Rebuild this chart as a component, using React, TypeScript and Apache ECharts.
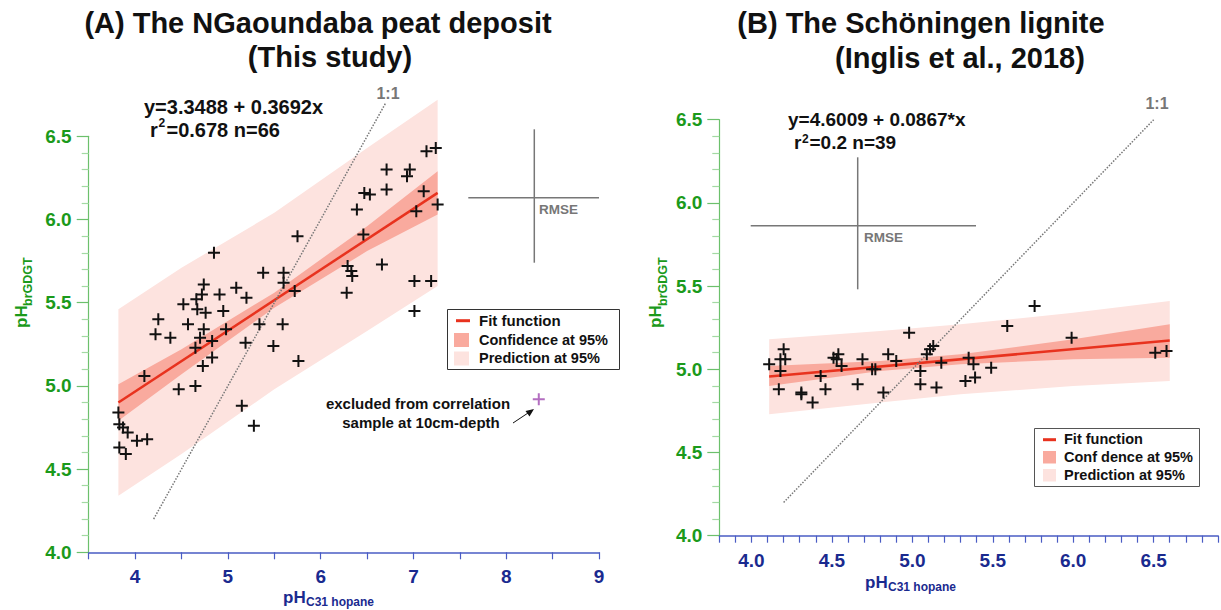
import React, { useEffect, useRef } from "react";
import * as echarts from "echarts";

const FONT = '"Liberation Sans", Arial, Helvetica, sans-serif';

// ---------- Panel A : NGaoundaba peat ----------
const aPoints: number[][] = [
  [4.85, 5.80], [5.38, 5.68], [5.60, 5.68], [5.60, 5.62], [5.72, 5.57], [4.74, 5.61],
  [5.09, 5.59], [5.20, 5.53], [4.91, 5.55], [4.52, 5.49], [4.66, 5.52], [4.72, 5.55],
  [4.67, 5.46], [4.76, 5.44], [4.95, 5.45], [4.25, 5.40], [4.57, 5.37], [4.74, 5.34],
  [4.98, 5.34], [4.22, 5.31], [4.38, 5.29], [4.70, 5.29], [4.83, 5.27], [5.19, 5.26],
  [5.34, 5.37], [5.59, 5.37], [5.49, 5.24], [4.65, 5.23], [4.83, 5.17], [4.73, 5.12],
  [5.76, 5.15], [4.10, 5.06], [4.47, 4.98], [4.65, 5.00], [3.82, 4.84], [3.83, 4.77],
  [3.87, 4.75], [3.92, 4.72], [4.02, 4.67], [4.13, 4.68], [3.83, 4.63], [3.90, 4.59],
  [5.15, 4.88], [5.28, 4.76], [7.14, 6.41], [7.24, 6.43], [6.71, 6.30], [6.96, 6.30],
  [6.93, 6.26], [6.71, 6.18], [6.47, 6.16], [6.53, 6.15], [7.11, 6.17], [7.26, 6.09],
  [6.39, 6.06], [7.03, 6.05], [5.75, 5.90], [6.46, 5.91], [6.29, 5.72], [6.33, 5.69],
  [6.34, 5.66], [6.66, 5.73], [6.28, 5.56], [7.01, 5.63], [7.19, 5.63], [7.01, 5.45],
];
const aExcluded: number[][] = [[8.35, 4.92]];
const aFit: number[][] = [[3.82, 4.90], [7.26, 6.16]];
const aOneToOne: number[][] = [[4.2, 4.2], [6.7, 6.7]];
const aBandX = [3.82, 4.5, 5.5, 6.5, 7.26];
const aConfLow = [4.79, 5.07, 5.47, 5.81, 6.03];
const aConfHigh = [5.01, 5.22, 5.56, 5.96, 6.29];
const aPredLow = [4.34, 4.59, 4.98, 5.33, 5.60];
const aPredHigh = [5.46, 5.71, 6.04, 6.43, 6.72];

// ---------- Panel B : Schöningen lignite ----------
const bPoints: number[][] = [
  [4.11, 5.03], [4.17, 4.88], [4.20, 5.12], [4.18, 5.06], [4.21, 5.06], [4.18, 4.99],
  [4.31, 4.86], [4.31, 4.85], [4.38, 4.80], [4.43, 4.96], [4.46, 4.88], [4.51, 5.07],
  [4.54, 5.09], [4.53, 5.06], [4.56, 5.02], [4.66, 4.91], [4.69, 5.06], [4.75, 5.00],
  [4.77, 5.00], [4.82, 4.86], [4.85, 5.09], [4.90, 5.05], [4.98, 5.22], [5.05, 4.99],
  [5.05, 4.91], [5.09, 5.09], [5.11, 5.12], [5.13, 5.14], [5.15, 4.89], [5.18, 5.04],
  [5.33, 4.93], [5.39, 4.95], [5.35, 5.07], [5.38, 5.03], [5.49, 5.01], [5.59, 5.26],
  [5.76, 5.38], [5.99, 5.19], [6.51, 5.10], [6.58, 5.11],
];
const bFit: number[][] = [[4.11, 4.957], [6.6, 5.173]];
const bOneToOne: number[][] = [[4.2, 4.2], [6.5, 6.5]];
const bBandX = [4.11, 4.8, 5.3, 6.0, 6.6];
const bConfLow = [4.90, 4.99, 5.03, 5.06, 5.07];
const bConfHigh = [5.02, 5.05, 5.09, 5.18, 5.27];
const bPredLow = [4.73, 4.80, 4.85, 4.90, 4.93];
const bPredHigh = [5.18, 5.23, 5.27, 5.34, 5.41];

const RED = "#e8321e";
const CONF = "#f9aa9e";
const PRED = "#fde3df";
const GREEN_TXT = "#1b9a1b";
const GREEN_LINE = "#6cc06c";
const GREEN_MINOR = "#a3d9a3";
const BLUE_TXT = "#1a2a8f";
const BLUE_LINE = "#4a5cc4";
const GREY = "#777777";
const PLUS = "path://M5,0H7V5H12V7H7V12H5V7H0V5H5Z";

function band(xs: number[], lo: number[], hi: number[], color: string, idx: number, z: number) {
  return {
    type: "custom",
    xAxisIndex: idx,
    yAxisIndex: idx,
    z,
    silent: true,
    clip: false,
    data: xs.map((x, i) => [x, lo[i], hi[i]]),
    encode: { x: 0, y: [1, 2] },
    renderItem: (params: any, api: any) => {
      if (params.dataIndex !== 0) return null;
      const pts: number[][] = [];
      for (let i = 0; i < xs.length; i++) pts.push(api.coord([xs[i], hi[i]]));
      for (let i = xs.length - 1; i >= 0; i--) pts.push(api.coord([xs[i], lo[i]]));
      return { type: "polygon", shape: { points: pts }, style: { fill: color } };
    },
  };
}

function txt(x: number, y: number, text: string, size: number, opts: any = {}) {
  return {
    type: "text",
    x,
    y,
    rotation: opts.rotation || 0,
    z: 100,
    style: {
      text,
      fill: opts.color || "#111",
      fontSize: size,
      fontWeight: opts.weight || "bold",
      fontFamily: FONT,
      textAlign: opts.align || "left",
      textVerticalAlign: "middle",
    },
  };
}

function line(x1: number, y1: number, x2: number, y2: number, color: string, w: number) {
  return { type: "line", z: 100, shape: { x1, y1, x2, y2 }, style: { stroke: color, lineWidth: w } };
}

function rect(x: number, y: number, w: number, h: number, fill: string, stroke?: string) {
  return {
    type: "rect",
    z: 99,
    shape: { x, y, width: w, height: h },
    style: { fill, stroke: stroke || null, lineWidth: stroke ? 1 : 0 },
  };
}

function yAxisCfg(grid: number) {
  return {
    type: "value",
    gridIndex: grid,
    min: 4,
    max: 6.5,
    interval: 0.5,
    axisLine: { show: true, lineStyle: { color: GREEN_LINE, width: 1.2 } },
    axisTick: { show: true, inside: false, length: 12, lineStyle: { color: GREEN_LINE, width: 1.2 } },
    minorTick: { show: true, splitNumber: 5, length: 7, lineStyle: { color: GREEN_MINOR, width: 1.2 } },
    splitLine: { show: false },
    minorSplitLine: { show: false },
    axisLabel: {
      color: GREEN_TXT,
      fontSize: 19,
      fontWeight: "bold",
      fontFamily: FONT,
      margin: 17,
      formatter: (v: number) => v.toFixed(1),
    },
  };
}

export default function App() {
  const ref = useRef<HTMLDivElement>(null);
  useEffect(() => {
    document.body.style.margin = "0";
    const chart = echarts.init(ref.current!, null, { renderer: "svg" });
    const plusSeries = (data: number[][], idx: number, color: string) => ({
      type: "scatter",
      xAxisIndex: idx,
      yAxisIndex: idx,
      data,
      symbol: PLUS,
      symbolSize: 12,
      itemStyle: { color, opacity: 1 },
      z: 10,
      silent: true,
    });
    const lineSeries = (data: number[][], idx: number, color: string, w: number, type: any, z: number) => ({
      type: "line",
      xAxisIndex: idx,
      yAxisIndex: idx,
      data,
      symbol: "none",
      clip: false,
      z,
      silent: true,
      lineStyle: { color, width: w, type },
    });

    const graphic: any[] = [
      // Titles
      txt(318, 23, "(A) The NGaoundaba peat deposit", 29, { align: "center" }),
      txt(330, 57, "(This study)", 29, { align: "center" }),
      txt(921, 23, "(B) The Schöningen lignite", 29, { align: "center" }),
      txt(960, 58, "(Inglis et al., 2018)", 29, { align: "center" }),
      // Equations A
      txt(144, 106.5, "y=3.3488 + 0.3692x", 20),
      txt(150, 130, "r", 20),
      txt(158.5, 123, "2", 12),
      txt(166.5, 130, "=0.678 n=66", 20),
      // Equations B
      txt(788, 119, "y=4.6009 + 0.0867*x", 19),
      txt(794, 142.5, "r", 19),
      txt(802, 139, "2", 12),
      txt(809.5, 142.5, "=0.2 n=39", 19),
      // 1:1 labels
      txt(388, 93, "1:1", 16, { color: GREY, align: "center" }),
      txt(1157, 103, "1:1", 16, { color: GREY, align: "center" }),
      // RMSE A
      line(534.3, 129.3, 534.3, 262.7, GREY, 1.5),
      line(468.3, 197.7, 599, 197.7, GREY, 1.5),
      txt(539, 209, "RMSE", 13.5, { color: GREY }),
      // RMSE B
      line(857.7, 157.3, 857.7, 289.3, GREY, 1.5),
      line(750.7, 225.7, 976, 225.7, GREY, 1.5),
      txt(864, 237, "RMSE", 13.5, { color: GREY }),
      // Legend A
      rect(447.5, 309.5, 172, 60, "#ffffff", "#333333"),
      line(456, 320.7, 470, 320.7, RED, 3),
      rect(454, 333, 15, 14, CONF),
      rect(454, 351.5, 15, 14, PRED),
      txt(479, 320.5, "Fit function", 15),
      txt(479, 339.5, "Confidence at 95%", 14.5),
      txt(479, 358, "Prediction at 95%", 14.5),
      // Legend B
      rect(1034.5, 428.5, 165, 58, "#ffffff", "#555555"),
      line(1043, 439.7, 1056, 439.7, RED, 3),
      rect(1043, 451, 13, 12.5, CONF),
      rect(1043, 469, 13, 12.5, PRED),
      txt(1064, 439, "Fit function", 14.5),
      txt(1064, 457, "Conf dence at 95%", 14.5),
      txt(1064, 474.5, "Prediction at 95%", 14.5),
      // Excluded annotation
      txt(418, 403.5, "excluded from correlation", 15, { align: "center" }),
      txt(421, 422, "sample at 10cm-depth", 15, { align: "center" }),
      line(513, 423, 531, 411, "#111", 1),
      {
        type: "polygon",
        z: 100,
        shape: { points: [[534, 409], [529.5, 416.5], [525.5, 411]] },
        style: { fill: "#111" },
      },
      // Y axis names (rotated)
      txt(21, 328, "pH", 17, { color: GREEN_TXT, rotation: Math.PI / 2 }),
      txt(28, 306, "brGDGT", 12.5, { color: GREEN_TXT, rotation: Math.PI / 2 }),
      txt(655.5, 328, "pH", 17, { color: GREEN_TXT, rotation: Math.PI / 2 }),
      txt(662.5, 306, "brGDGT", 12.5, { color: GREEN_TXT, rotation: Math.PI / 2 }),
      // X axis names
      txt(283, 597, "pH", 17, { color: BLUE_TXT }),
      txt(306, 602, "C31 hopane", 12, { color: BLUE_TXT }),
      txt(865, 582, "pH", 17, { color: BLUE_TXT }),
      txt(888, 587, "C31 hopane", 12, { color: BLUE_TXT }),
    ];

    chart.setOption({
      animation: false,
      backgroundColor: "#ffffff",
      grid: [
        { left: 88.7, top: 136.3, width: 510.4, height: 416 },
        { left: 719.3, top: 119.7, width: 506.9, height: 416 },
      ],
      xAxis: [
        {
          type: "value",
          gridIndex: 0,
          min: 3.5,
          max: 9,
          interval: 0.5,
          axisLine: { show: true, lineStyle: { color: BLUE_LINE, width: 1.5 } },
          axisTick: { show: true, inside: false, length: 7, lineStyle: { color: BLUE_LINE, width: 1.2 } },
          splitLine: { show: false },
          axisLabel: {
            color: BLUE_TXT,
            fontSize: 19,
            fontWeight: "bold",
            fontFamily: FONT,
            margin: 15,
            formatter: (v: number) => (Math.abs(v - Math.round(v)) < 1e-6 ? String(Math.round(v)) : ""),
          },
        },
        {
          type: "value",
          gridIndex: 1,
          min: 3.8,
          max: 6.9,
          interval: 0.1,
          axisLine: { show: true, lineStyle: { color: BLUE_LINE, width: 1.5 } },
          axisTick: { show: true, inside: false, length: 7, lineStyle: { color: BLUE_LINE, width: 1.2 } },
          splitLine: { show: false },
          axisLabel: {
            color: BLUE_TXT,
            fontSize: 19,
            fontWeight: "bold",
            fontFamily: FONT,
            margin: 15,
            formatter: (v: number) => {
              const r = Math.round(v * 10);
              return r % 5 === 0 ? (r / 10).toFixed(1) : "";
            },
          },
        },
      ],
      yAxis: [yAxisCfg(0), yAxisCfg(1)],
      series: [
        band(aBandX, aPredLow, aPredHigh, PRED, 0, 1),
        band(aBandX, aConfLow, aConfHigh, CONF, 0, 2),
        lineSeries(aFit, 0, RED, 2.5, "solid", 3),
        lineSeries(aOneToOne, 0, "#777777", 1.5, "dotted", 4),
        plusSeries(aPoints, 0, "#111111"),
        plusSeries(aExcluded, 0, "#b36ec0"),
        band(bBandX, bPredLow, bPredHigh, PRED, 1, 1),
        band(bBandX, bConfLow, bConfHigh, CONF, 1, 2),
        lineSeries(bFit, 1, RED, 2.5, "solid", 3),
        lineSeries(bOneToOne, 1, "#777777", 1.5, "dotted", 4),
        plusSeries(bPoints, 1, "#111111"),
      ],
      graphic,
    });
    return () => chart.dispose();
  }, []);
  return <div ref={ref} style={{ width: 1221, height: 610 }} />;
}
